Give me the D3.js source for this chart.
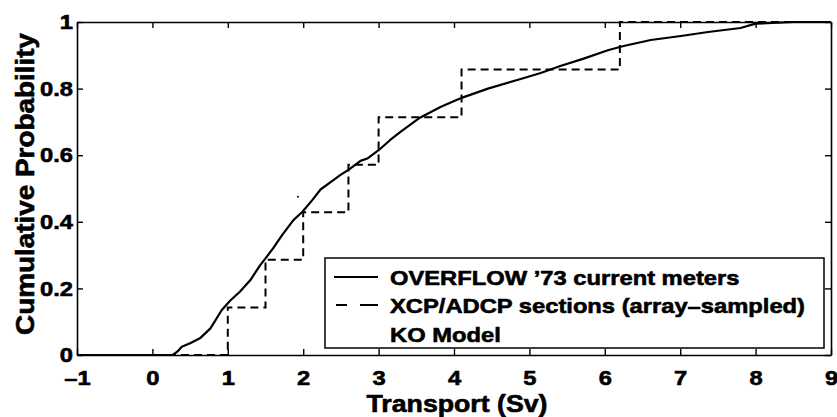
<!DOCTYPE html>
<html>
<head>
<meta charset="utf-8">
<script src="https://cdn.jsdelivr.net/npm/d3@7"></script>
<style>
  html, body { margin: 0; padding: 0; background: #fff; }
  svg { display: block; }
  text { font-family: "Liberation Sans", Arial, Helvetica, sans-serif; font-weight: bold; fill: #000; }
</style>
</head>
<body>
<svg id="chart" width="837" height="417"></svg>
<script>
// Transport (Sv) and cumulative probability of the current-meter record
const meterTransport = [-1, 0.27, 0.33, 0.39, 0.5, 0.63, 0.77, 0.92, 1.03, 1.16, 1.30, 1.43, 1.50, 1.60,
  1.72, 1.87, 1.99, 2.12, 2.23, 2.40, 2.49, 2.60, 2.76, 2.85, 3.0, 3.15, 3.29, 3.53, 3.82, 4.11,
  4.45, 4.84, 5.15, 5.41, 5.72, 6.04, 6.25, 6.61, 7.01, 7.37, 7.80, 8.0, 8.5, 9];
const meterProb = [0, 0, 0.01, 0.025, 0.035, 0.05, 0.08, 0.135, 0.163, 0.19, 0.225, 0.27, 0.29, 0.32,
  0.36, 0.405, 0.43, 0.465, 0.497, 0.525, 0.54, 0.556, 0.583, 0.59, 0.615, 0.645, 0.67, 0.71, 0.745, 0.773,
  0.80, 0.826, 0.847, 0.868, 0.89, 0.915, 0.928, 0.946, 0.958, 0.97, 0.982, 0.995, 1.0, 1.0];

// Array-sampled section transports (empirical CDF steps)
const sectionTransport = [-1, 1.0, 1.5, 2.0, 2.6, 3.0, 4.1, 6.2, 9];
const sectionProb = [0, 0.143, 0.286, 0.429, 0.571, 0.714, 0.857, 1.0, 1.0];

// KO model estimate
const modelTransport = [1.93];
const modelProb = [0.475];

const xTicks = [-1, 0, 1, 2, 3, 4, 5, 6, 7, 8, 9];
const xTickLabels = ["–1", "0", "1", "2", "3", "4", "5", "6", "7", "8", "9"];
const yTicks = [0, 0.2, 0.4, 0.6, 0.8, 1];
const yTickLabels = ["0", "0.2", "0.4", "0.6", "0.8", "1"];

const legendLabels = ["OVERFLOW ’73 current meters", "XCP/ADCP sections (array–sampled)", "KO Model"];

const svg = d3.select("#chart");
const plotLeft = 77, plotRight = 831, plotTop = 22, plotBottom = 355;
const x = d3.scaleLinear().domain([-1, 9]).range([plotLeft, plotRight]);
const y = d3.scaleLinear().domain([0, 1]).range([plotBottom, plotTop]);

const STRETCH = 1.13;
const TEXT_STROKE = 0.6;
function stretch(sel) {
  sel.each(function () {
    const len = this.getComputedTextLength();
    if (len > 0) {
      this.setAttribute("textLength", len * STRETCH);
      this.setAttribute("lengthAdjust", "spacingAndGlyphs");
    }
  });
}

// Series
const meterData = meterTransport.map((t, i) => [t, meterProb[i]]);
const sectionData = sectionTransport.map((t, i) => [t, sectionProb[i]]);

svg.append("path")
  .datum(sectionData)
  .attr("fill", "none").attr("stroke", "#000").attr("stroke-width", 2)
  .attr("stroke-dasharray", "8,5")
  .attr("d", d3.line().x(d => x(d[0])).y(d => y(d[1])).curve(d3.curveStepAfter));

svg.append("path")
  .datum(meterData)
  .attr("fill", "none").attr("stroke", "#000").attr("stroke-width", 2.2)
  .attr("stroke-linejoin", "round")
  .attr("d", d3.line().x(d => x(d[0])).y(d => y(d[1])));

svg.selectAll("circle.model")
  .data(modelTransport.map((t, i) => [t, modelProb[i]]))
  .enter().append("circle").attr("class", "model")
  .attr("cx", d => x(d[0])).attr("cy", d => y(d[1])).attr("r", 1).attr("fill", "#000");

// Axes (boxed, ticks pointing inward)
function styleAxis(g) {
  g.select(".domain").attr("stroke-width", 1.6);
  g.selectAll(".tick line").attr("stroke-width", 1.4);
  g.selectAll("text").attr("font-size", 21).attr("font-family", null)
    .attr("stroke", "#000").attr("stroke-width", TEXT_STROKE);
}

const gx = svg.append("g").attr("transform", `translate(0,${plotBottom})`)
  .call(d3.axisBottom(x).tickValues(xTicks).tickFormat((d, i) => xTickLabels[i])
    .tickSizeInner(-6).tickSizeOuter(0).tickPadding(15));
styleAxis(gx);
stretch(gx.selectAll("text"));

const gxTop = svg.append("g").attr("transform", `translate(0,${plotTop})`)
  .call(d3.axisTop(x).tickValues(xTicks).tickFormat("").tickSizeInner(-6).tickSizeOuter(0));
styleAxis(gxTop);

const gy = svg.append("g").attr("transform", `translate(${plotLeft},0)`)
  .call(d3.axisLeft(y).tickValues(yTicks).tickFormat((d, i) => yTickLabels[i])
    .tickSizeInner(-6).tickSizeOuter(0).tickPadding(4));
styleAxis(gy);
stretch(gy.selectAll("text"));

const gyRight = svg.append("g").attr("transform", `translate(${plotRight},0)`)
  .call(d3.axisRight(y).tickValues(yTicks).tickFormat("").tickSizeInner(-6).tickSizeOuter(0));
styleAxis(gyRight);

// Axis titles
svg.append("text")
  .attr("x", 457).attr("y", 412).attr("text-anchor", "middle")
  .attr("font-size", 23).attr("stroke", "#000").attr("stroke-width", TEXT_STROKE)
  .attr("textLength", 181).attr("lengthAdjust", "spacingAndGlyphs")
  .text("Transport (Sv)");

svg.append("text")
  .attr("transform", "translate(34,184) rotate(-90)")
  .attr("text-anchor", "middle")
  .attr("font-size", 26).attr("stroke", "#000").attr("stroke-width", TEXT_STROKE)
  .attr("textLength", 302).attr("lengthAdjust", "spacingAndGlyphs")
  .text("Cumulative Probability");

// Legend
const legend = svg.append("g");
legend.append("rect")
  .attr("x", 325).attr("y", 258).attr("width", 499).attr("height", 90)
  .attr("fill", "#fff").attr("stroke", "#000").attr("stroke-width", 1.5);

const rowY = [277, 305, 334];
legend.append("line").attr("x1", 334).attr("x2", 378).attr("y1", rowY[0]).attr("y2", rowY[0])
  .attr("stroke", "#000").attr("stroke-width", 2);
legend.append("line").attr("x1", 336).attr("x2", 378).attr("y1", rowY[1]).attr("y2", rowY[1])
  .attr("stroke", "#000").attr("stroke-width", 2).attr("stroke-dasharray", "11,13,18");

const lt = legend.selectAll("text.lg").data(legendLabels).enter().append("text")
  .attr("class", "lg")
  .attr("x", 390).attr("y", (d, i) => rowY[i] + 7.5)
  .attr("font-size", 21).attr("stroke", "#000").attr("stroke-width", TEXT_STROKE)
  .text(d => d);
stretch(lt);
</script>
</body>
</html>
